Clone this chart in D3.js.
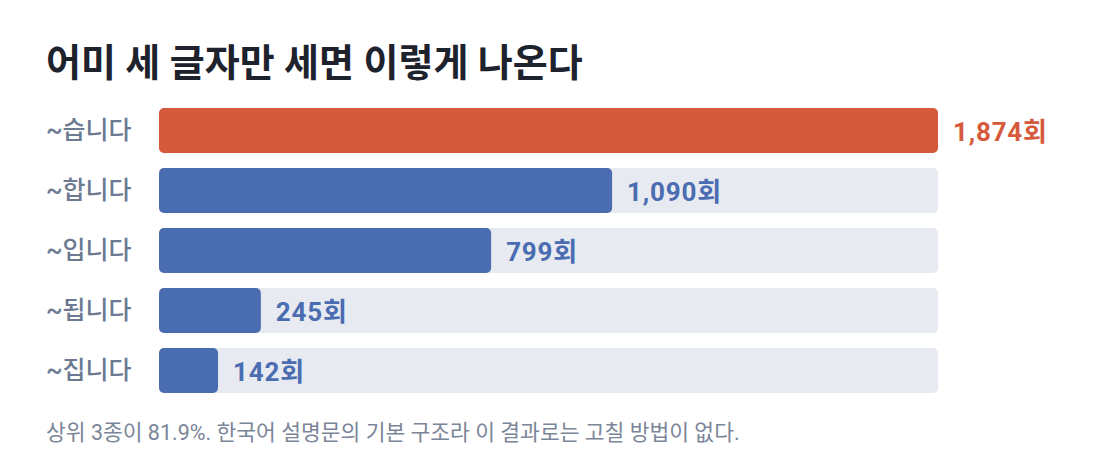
<!DOCTYPE html>
<html>
<head>
<meta charset="utf-8">
<script src="https://cdn.jsdelivr.net/npm/d3@7"></script>
<style>
  body { margin: 0; background: #fff; }
  svg { display: block; font-family: Roboto, "Noto Sans CJK KR", sans-serif; }
</style>
</head>
<body>
<svg id="chart" width="1100" height="472"></svg>
<script>
const endings = ["~습니다", "~합니다", "~입니다", "~됩니다", "~집니다"];
const counts = [1874, 1090, 799, 245, 142];
const titleText = "어미 세 글자만 세면 이렇게 나온다";
const noteText = "상위 3종이 81.9%. 한국어 설명문의 기본 구조라 이 결과로는 고칠 방법이 없다.";

const svg = d3.select("#chart");

const x = d3.scaleLinear().domain([0, d3.max(counts)]).range([159, 938]);
const y = d3.scaleBand().domain(endings).range([108, 393]).paddingInner(0.25).paddingOuter(0);

svg.append("text")
  .attr("x", 46).attr("y", 76)
  .attr("font-size", 38).attr("font-weight", 700)
  .attr("fill", "#1d222d")
  .text(titleText);

const rows = svg.selectAll("g.row")
  .data(endings.map((e, i) => ({ e, v: counts[i], i })))
  .enter().append("g").attr("class", "row");

rows.append("rect")
  .attr("x", x(0)).attr("y", d => y(d.e))
  .attr("width", x.range()[1] - x(0)).attr("height", y.bandwidth())
  .attr("rx", 5)
  .attr("fill", "#e7eaf0");

rows.append("rect")
  .attr("x", x(0)).attr("y", d => y(d.e))
  .attr("width", d => x(d.v) - x(0)).attr("height", y.bandwidth())
  .attr("rx", 5)
  .attr("fill", d => d.i === 0 ? "#d55a3c" : "#4a6cb1");

rows.append("text")
  .attr("x", 46).attr("y", d => y(d.e) + y.bandwidth() / 2)
  .attr("dy", "0.35em")
  .attr("font-size", 25).attr("font-weight", 500)
  .attr("fill", "#6c7a92")
  .text(d => d.e);

rows.append("text")
  .attr("x", d => x(d.v) + 15).attr("y", d => y(d.e) + y.bandwidth() / 2 + 1)
  .attr("dy", "0.35em")
  .attr("font-size", 26).attr("font-weight", 700)
  .attr("letter-spacing", 0.8)
  .attr("fill", d => d.i === 0 ? "#d55a3c" : "#4a6cb1")
  .text(d => d3.format(",")(d.v) + "회");

svg.append("text")
  .attr("x", 46).attr("y", 440)
  .attr("font-size", 21.5)
  .attr("fill", "#7b8598")
  .text(noteText);
</script>
</body>
</html>
